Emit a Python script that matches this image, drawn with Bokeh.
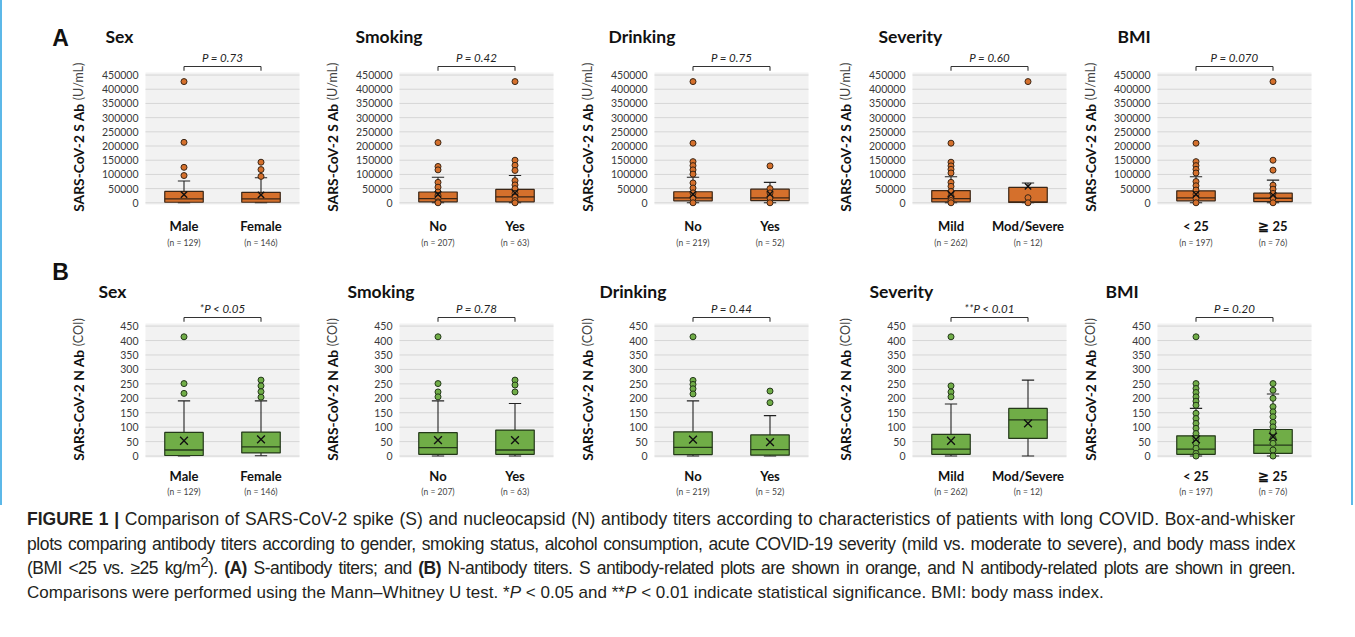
import math
from bokeh.plotting import figure
from bokeh.models import (Range1d, FixedTicker, LinearAxis, Label, BoxAnnotation,
                          Div, ColumnDataSource, NumeralTickFormatter)
from bokeh.layouts import row, column
from bokeh.embed import file_html
from bokeh.resources import INLINE
from bokeh.core.properties import value

# ---------------- data ----------------
GROUPS = ["Sex", "Smoking", "Drinking", "Severity", "BMI"]
CATS = [["Male", "Female"], ["No", "Yes"], ["No", "Yes"], ["Mild", "Mod/Severe"], ["< 25", "\u2267 25"]]
N_LABELS = [["(n = 129)", "(n = 146)"], ["(n = 207)", "(n = 63)"], ["(n = 219)", "(n = 52)"],
            ["(n = 262)", "(n = 12)"], ["(n = 197)", "(n = 76)"]]

S_P = ["P = 0.73", "P = 0.42", "P = 0.75", "P = 0.60", "P = 0.070"]
N_P = ["*P < 0.05", "P = 0.78", "P = 0.44", "**P < 0.01", "P = 0.20"]

S_TICKS = [0, 50000, 100000, 150000, 200000, 250000, 300000, 350000, 400000, 450000]
N_TICKS = [0, 50, 100, 150, 200, 250, 300, 350, 400, 450]

# S antibody (U/mL)
S_Q1 = [[2000, 2000], [3500, 3500], [7000, 8000], [3500, 1000], [7000, 4000]]
S_MED = [[14000, 14000], [15000, 21000], [17000, 17000], [15000, 3000], [17000, 16000]]
S_Q3 = [[40000, 37000], [38000, 47000], [39000, 48000], [43000, 54000], [42000, 34000]]
S_LO = [[0, 0], [0, 0], [0, 0], [0, 0], [0, 0]]
S_HI = [[77000, 88000], [90000, 96000], [90000, 72000], [92000, 70000], [92000, 80000]]
S_MEAN = [[29000, 28000], [30000, 35000], [30000, 31000], [30000, 58000], [30000, 27000]]
S_OUT = [[[427000, 213000, 125000, 96000], [143000, 117000, 93000]],
         [[212000, 128000, 116000], [427000, 150000, 132000, 114000]],
         [[427000, 210000, 145000, 131000, 116000, 101000], [130000]],
         [[210000, 143000, 130000, 118000, 105000], [427000]],
         [[210000, 145000, 131000, 118000, 105000], [427000, 150000, 115000]]]
S_INNER = [[[], []],
           [[72000, 55000, 38000, 26000, 15000, 3500, 0], [78000, 63000, 50000, 33000, 20000, 8000, 0]],
           [[70000, 52000, 35000, 17000, 0], [50000, 35000, 17000, 0]],
           [[72000, 58000, 40000, 22000, 8000, 0], [18000, 0]],
           [[75000, 60000, 45000, 30000, 15000, 0], [62000, 48000, 33000, 17000, 0]]]

# N antibody (COI)
N_Q1 = [[2, 11], [6, 6], [5, 3], [6, 61], [6, 9]]
N_MED = [[21, 32], [29, 21], [30, 22], [24, 125], [24, 38]]
N_Q3 = [[82, 83], [81, 90], [84, 73], [75, 165], [70, 92]]
N_LO = [[0, 1], [0, 0], [0, 0], [0, 0], [0, 0]]
N_HI = [[191, 191], [191, 182], [191, 140], [180, 263], [165, 215]]
N_MEAN = [[53, 58], [55, 55], [57, 48], [53, 113], [58, 67]]
N_OUT = [[[413, 251, 217], [263, 243, 223, 204]],
         [[413, 251, 222, 205], [263, 246, 222]],
         [[413, 262, 248, 233, 215], [225, 185]],
         [[413, 243, 222, 205], []],
         [[413, 251, 234, 220, 205, 190, 176], [251, 228]]]
N_INNER = [[[], []], [[], []], [[], []], [[], []],
           [[148, 130, 113, 96, 78, 61, 44, 27, 9, 0],
            [200, 171, 153, 136, 117, 101, 84, 61, 44, 21, 0]]]

CAPTION_LINES = [
    "<b>FIGURE 1 |</b> Comparison of SARS-CoV-2 spike (S) and nucleocapsid (N) antibody titers according to characteristics of patients with long COVID. Box-and-whisker",
    "plots comparing antibody titers according to gender, smoking status, alcohol consumption, acute COVID-19 severity (mild vs. moderate to severe), and body mass index",
    "(BMI &lt;25 vs. \u226525 kg/m<sup style=\"line-height:0\">2</sup>). <b>(A)</b> S-antibody titers; and <b>(B)</b> N-antibody titers. S antibody-related plots are shown in orange, and N antibody-related plots are shown in green.",
    "Comparisons were performed using the Mann\u2013Whitney U test. *<i>P</i> &lt; 0.05 and **<i>P</i> &lt; 0.01 indicate statistical significance. BMI: body mass index.",
]

# ---------------- layout / style ----------------
FONT = "Lato"
FW = 154                  # width of the grey plot area
PXU = FW / 2.0            # px per x unit
PANEL_W = [307, 255, 258, 245, 284]
ML = [143, 90, 90, 90, 90]  # px from panel left to grey area

ROWS = {
    "S": dict(top_px=72, gray_h=132, ext=10, MB=41, gbot=-6000, gtop=459000,
              fill="#d5702c", edge="#3b2616", ylab="SARS-CoV-2 S Ab", unit="\u00a0(U/mL)",
              junction=350000, tdx=[-40, -44, -46, -34, -40], title_up=36, letter="A",
              letter_up=35, mean_size=9, xstand=3, nstand=1),
    "N": dict(top_px=68, gray_h=134, ext=8, MB=40, gbot=-5, gtop=459,
              fill="#70ad47", edge="#24381a", ylab="SARS-CoV-2 N Ab", unit="\u00a0(COI)",
              junction=369, tdx=[-47, -52, -55, -43, -52], title_up=31.6, letter="B",
              letter_up=52, mean_size=11, xstand=2, nstand=0),
}


def make_panel(key, i, q1, med, q3, lo, hi, mean, outs, inners, ptext, ticks):
    cfg = ROWS[key]
    u = (cfg["gtop"] - cfg["gbot"]) / cfg["gray_h"]
    y0 = cfg["gbot"] - cfg["ext"] * u
    y1 = cfg["gtop"] + cfg["top_px"] * u
    w = PANEL_W[i]
    x0 = 0.5 - ML[i] / PXU
    x1 = 0.5 + (w - ML[i]) / PXU
    fh = cfg["top_px"] + cfg["gray_h"] + cfg["ext"]
    p = figure(frame_width=w, frame_height=fh, x_range=Range1d(x0, x1),
               y_range=Range1d(y0, y1), output_backend="svg", toolbar_location=None,
               min_border_left=0, min_border_right=0, min_border_top=0,
               min_border_bottom=cfg["MB"], background_fill_color="white",
               border_fill_color="white", outline_line_color=None)

    up = lambda px: cfg["gtop"] + px * u       # data y at px above grey top
    xo = lambda px: 0.5 + px / PXU              # data x at px from grey left

    p.add_layout(BoxAnnotation(left=0.5, right=2.5, bottom=cfg["gbot"], top=cfg["gtop"],
                               fill_color="#f2f2f2", fill_alpha=1.0,
                               line_color=None, level="image"))
    p.xgrid.visible = False
    p.ygrid.visible = False
    # grid lines at the y ticks, limited to the grey area
    p.segment(x0=[0.5] * len(ticks), y0=ticks, x1=[2.5] * len(ticks), y1=ticks,
              line_color="#d6d6d6", line_width=1)

    # y axis fixed at the grey area's left edge
    ya = p.yaxis[0]
    ya.fixed_location = 0.5
    ya.ticker = FixedTicker(ticks=ticks)
    ya.formatter = NumeralTickFormatter(format="0")
    ya.axis_line_color = None
    ya.major_tick_line_color = None
    ya.minor_tick_line_color = None
    ya.major_tick_out = 0
    ya.major_tick_in = 0
    ya.minor_tick_out = 0
    ya.major_label_text_font = FONT
    ya.major_label_text_font_size = "10.5px"
    ya.major_label_text_color = "#3a3a3a"
    ya.major_label_standoff = 7

    # x axes
    xa = p.xaxis[0]
    xa.ticker = FixedTicker(ticks=[1, 2])
    xa.major_label_overrides = {1: CATS[i][0], 2: CATS[i][1]}
    xa.axis_line_color = None
    xa.major_tick_line_color = None
    xa.minor_tick_line_color = None
    xa.major_tick_out = 0
    xa.major_tick_in = 0
    xa.minor_tick_out = 0
    xa.major_label_text_font = FONT
    xa.major_label_text_font_style = "bold"
    xa.major_label_text_font_size = "13px"
    xa.major_label_text_color = "#111111"
    xa.major_label_standoff = cfg["xstand"]
    xn = LinearAxis(ticker=FixedTicker(ticks=[1, 2]),
                    major_label_overrides={1: N_LABELS[i][0], 2: N_LABELS[i][1]},
                    axis_line_color=None, major_tick_line_color=None, minor_tick_line_color=None,
                    major_tick_out=0, major_tick_in=0, minor_tick_out=0,
                    major_label_text_font=FONT, major_label_text_font_size="8.5px",
                    major_label_text_color="#444444", major_label_standoff=cfg["nstand"])
    p.add_layout(xn, "below")

    xs = [1, 2]
    src = ColumnDataSource(dict(x=xs, x0=[c - 0.25 for c in xs], x1=[c + 0.25 for c in xs],
                                c0=[c - 0.08 for c in xs], c1=[c + 0.08 for c in xs],
                                q1=q1, med=med, q3=q3, lo=lo, hi=hi, mean=mean))
    wc = "#222222"
    p.segment(x0="x", y0="q3", x1="x", y1="hi", line_color=wc, line_width=1.1, source=src)
    p.segment(x0="x", y0="q1", x1="x", y1="lo", line_color=wc, line_width=1.1, source=src)
    p.segment(x0="c0", y0="hi", x1="c1", y1="hi", line_color=wc, line_width=1.1, source=src)
    p.segment(x0="c0", y0="lo", x1="c1", y1="lo", line_color=wc, line_width=1.1, source=src)
    p.vbar(x="x", width=0.5, bottom="q1", top="q3", fill_color=cfg["fill"],
           line_color=cfg["edge"], line_width=1.2, source=src)
    p.segment(x0="x0", y0="med", x1="x1", y1="med", line_color=cfg["edge"], line_width=1.3, source=src)

    px, py = [], []
    for k in range(2):
        for v in inners[k] + outs[k]:
            px.append(xs[k])
            py.append(v)
    p.scatter(px, py, size=6, fill_color=cfg["fill"], line_color=cfg["edge"], line_width=1)
    p.scatter(x="x", y="mean", marker="x", size=cfg["mean_size"], line_color="#111111",
              line_width=1.4, source=src)

    # bracket + p value
    yb, yt = up(6), up(1.8)
    p.segment(x0=[1, 1, 2], y0=[yb, yt, yt], x1=[2, 1, 2], y1=[yb, yb, yb],
              line_color="#333333", line_width=1.1)
    p.text(x=[1.5], y=[up(15)], text=[ptext], text_align="center", text_baseline="middle",
           text_font=value(FONT), text_font_style="italic", text_font_size="11.5px",
           text_color="#222222")

    # title
    p.add_layout(Label(x=xo(cfg["tdx"][i]), y=up(cfg["title_up"]), text=GROUPS[i],
                       text_font=FONT, text_font_style="bold", text_font_size="17.5px",
                       text_baseline="middle", text_align="left", text_color="#111111"))
    # y label (bold part + units)
    p.add_layout(Label(x=xo(-67), y=cfg["junction"], text=cfg["ylab"], angle=math.pi / 2,
                       text_font=FONT, text_font_style="bold", text_font_size="13.8px",
                       text_baseline="middle", text_align="right", text_color="#111111"))
    p.add_layout(Label(x=xo(-67), y=cfg["junction"], text=cfg["unit"], angle=math.pi / 2,
                       text_font=FONT, text_font_size="12.5px",
                       text_baseline="middle", text_align="left", text_color="#444444"))
    if i == 0:
        p.add_layout(Label(x=xo(-85), y=up(cfg["letter_up"]), text=cfg["letter"],
                           text_font="Liberation Sans", text_font_style="bold",
                           text_font_size="23px", text_baseline="middle", text_align="center",
                           text_color="#111111"))
    return p


figsA = [make_panel("S", i, S_Q1[i], S_MED[i], S_Q3[i], S_LO[i], S_HI[i], S_MEAN[i],
                    S_OUT[i], S_INNER[i], S_P[i], S_TICKS) for i in range(5)]
figsB = [make_panel("N", i, N_Q1[i], N_MED[i], N_Q3[i], N_LO[i], N_HI[i], N_MEAN[i],
                    N_OUT[i], N_INNER[i], N_P[i], N_TICKS) for i in range(5)]

SPACING = ["0px", "-0.4px", "-0.55px"]
html = '<div style="position:relative;top:-3px;">'
for j, line in enumerate(CAPTION_LINES):
    if j < 3:
        html += ('<div style="font-family:\'Liberation Sans\',Arial,sans-serif;color:#231f20;'
                 'line-height:24.7px;font-size:17.5px;letter-spacing:%s;text-align:justify;'
                 'text-align-last:justify;width:1268px;">%s</div>' % (SPACING[j], line))
    else:
        html += ('<div style="font-family:\'Liberation Sans\',Arial,sans-serif;color:#231f20;'
                 'line-height:24.7px;font-size:17px;letter-spacing:0.03px;">%s</div>' % line)
html += '</div>'
caption = Div(text=html, width=1353, height=110,
              styles={"padding-left": "22px", "padding-top": "0px"})

charts = column(row(*figsA), row(*figsB),
                styles={"border-left": "2px solid #5cb8e8", "border-right": "2px solid #5cb8e8"})
layout = column(charts, caption)

open("out.html", "w").write(file_html(layout, INLINE))
